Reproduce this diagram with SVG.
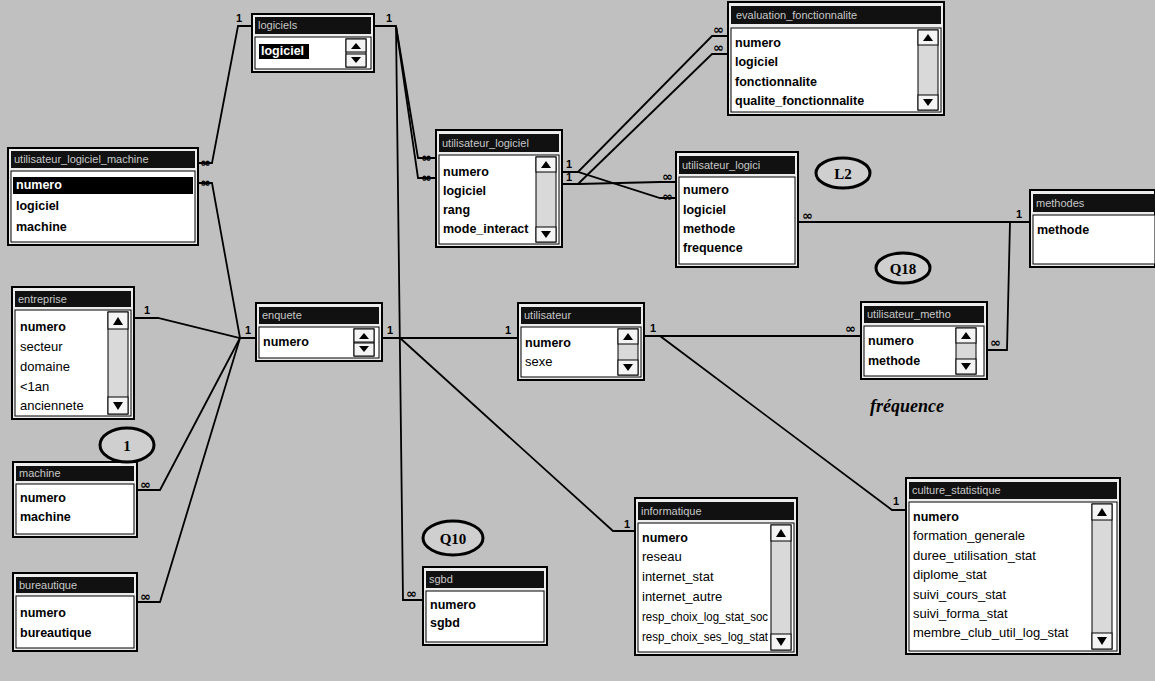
<svg xmlns="http://www.w3.org/2000/svg" width="1155" height="681" viewBox="0 0 1155 681">
<defs>
<style>
.frame{fill:#ececec;stroke:#000;stroke-width:2}
.hdr{fill:#111}
.ht{font-family:"Liberation Sans",Arial,sans-serif;font-size:11px;fill:#c8c8c8}
.body{fill:#fff;stroke:#000;stroke-width:1}
.sel{fill:#000}
.r{font-family:"Liberation Sans",Arial,sans-serif;font-size:12.5px;font-weight:bold;fill:#000}
.n{font-family:"Liberation Sans",Arial,sans-serif;font-size:13px;fill:#000}
.w{fill:#fff}
.sb{fill:#d9d9d9;stroke:#000;stroke-width:1}
.sbb{fill:#f4f4f4;stroke:#000;stroke-width:1}
.ar{fill:#000}
.ln{fill:none;stroke:#000;stroke-width:1.8}
.c1{font-family:"Liberation Sans",Arial,sans-serif;font-size:11px;font-weight:bold;fill:#000}
.ci{font-family:"DejaVu Sans",sans-serif;font-size:13px;font-weight:bold;fill:#000}
.el{fill:#cfcfcf;stroke:#000;stroke-width:3}
.et{font-family:"Liberation Serif",serif;font-size:15px;font-weight:bold;fill:#000;text-anchor:middle}
</style>
</defs>
<rect x="0" y="0" width="1155" height="681" fill="#c0c0c0"/>

<g id="connectors">
<polyline class="ln" points="134,318 158,318 240,338 256,338"/>
<polyline class="ln" points="137,490 160,490 240,338"/>
<polyline class="ln" points="137,602 160,602 240,338"/>
<polyline class="ln" points="198,183 212,183 240,338"/>
<polyline class="ln" points="198,163 212,163 238,26 252,26"/>
<polyline class="ln" points="374,26 396,26 418,158 436,158"/>
<polyline class="ln" points="396,26 418,178 436,178"/>
<polyline class="ln" points="396,26 403,600 423,600"/>
<polyline class="ln" points="382,338 518,338"/>
<polyline class="ln" points="382,338 400,338 613,531 635,531"/>
<polyline class="ln" points="644,336 861,336"/>
<polyline class="ln" points="644,336 660,336 892,510 906,510"/>
<polyline class="ln" points="562,172 578,172 712,36 728,36"/>
<polyline class="ln" points="562,184 578,184 712,54 728,54"/>
<polyline class="ln" points="562,172 578,172 660,198 676,198"/>
<polyline class="ln" points="562,184 578,184 660,182 676,182"/>
<polyline class="ln" points="798,222 1030,222"/>
<polyline class="ln" points="1010,222 1007,350 987,350"/>
<text class="c1" x="144" y="314">1</text>
<text class="ci" x="140" y="489">∞</text>
<text class="ci" x="140" y="601">∞</text>
<text class="ci" x="200" y="167">∞</text>
<text class="ci" x="200" y="187">∞</text>
<text class="c1" x="236" y="22">1</text>
<text class="c1" x="245" y="334">1</text>
<text class="c1" x="386" y="22">1</text>
<text class="ci" x="421" y="162">∞</text>
<text class="ci" x="421" y="182">∞</text>
<text class="ci" x="406" y="598">∞</text>
<text class="c1" x="387" y="334">1</text>
<text class="c1" x="505" y="334">1</text>
<text class="c1" x="624" y="528">1</text>
<text class="c1" x="650" y="332">1</text>
<text class="ci" x="845" y="333">∞</text>
<text class="c1" x="893" y="505">1</text>
<text class="c1" x="566" y="168">1</text>
<text class="c1" x="566" y="181">1</text>
<text class="ci" x="713" y="34">∞</text>
<text class="ci" x="713" y="52">∞</text>
<text class="ci" x="662" y="181">∞</text>
<text class="ci" x="662" y="201">∞</text>
<text class="ci" x="802" y="220">∞</text>
<text class="c1" x="1016" y="218">1</text>
<text class="ci" x="990" y="347">∞</text>
</g>

<g id="t-utilisateur_logiciel_machine">
<rect class="frame" x="8" y="148" width="190" height="97"/>
<rect class="hdr" x="11" y="151" width="184" height="17"/>
<text class="ht" x="14" y="163">utilisateur_logiciel_machine</text>
<rect class="body" x="11" y="171" width="184" height="71"/>
<rect class="sel" x="13" y="177" width="180" height="17"/>
<text class="r w" x="16" y="189">numero</text>
<text class="r" x="16" y="210">logiciel</text>
<text class="r" x="16" y="231">machine</text>
</g>

<g id="t-logiciels">
<rect class="frame" x="252" y="14" width="122" height="58"/>
<rect class="hdr" x="255" y="17" width="116" height="17"/>
<text class="ht" x="258" y="29">logiciels</text>
<rect class="body" x="255" y="37" width="116" height="32"/>
<rect class="sel" x="259" y="44" width="50" height="15"/>
<text class="r w" x="261" y="55">logiciel</text>
<rect class="sb" x="346" y="39" width="20" height="28"/>
<rect class="sbb" x="346" y="39" width="20" height="13"/>
<polygon class="ar" points="351,49 361,49 356,43"/>
<rect class="sbb" x="346" y="54" width="20" height="13"/>
<polygon class="ar" points="351,57 361,57 356,63"/>
</g>

<g id="t-utilisateur_logiciel">
<rect class="frame" x="436" y="130" width="126" height="117"/>
<rect class="hdr" x="439" y="134" width="120" height="18"/>
<text class="ht" x="442" y="147">utilisateur_logiciel</text>
<rect class="body" x="439" y="155" width="120" height="89"/>
<text class="r" x="443" y="176">numero</text>
<text class="r" x="443" y="195">logiciel</text>
<text class="r" x="443" y="214">rang</text>
<text class="r" x="443" y="233">mode_interact</text>
<rect class="sb" x="536" y="157" width="20" height="85"/>
<rect class="sbb" x="536" y="157" width="20" height="15"/>
<polygon class="ar" points="541,168 551,168 546,161"/>
<rect class="sbb" x="536" y="227" width="20" height="15"/>
<polygon class="ar" points="541,231 551,231 546,238"/>
</g>

<g id="t-evaluation_fonctionnalite">
<rect class="frame" x="728" y="2" width="216" height="113"/>
<rect class="hdr" x="731" y="6" width="210" height="18"/>
<text class="ht" x="736" y="19">evaluation_fonctionnalite</text>
<rect class="body" x="731" y="28" width="210" height="84"/>
<text class="r" x="735" y="47">numero</text>
<text class="r" x="735" y="66">logiciel</text>
<text class="r" x="735" y="86">fonctionnalite</text>
<text class="r" x="735" y="105">qualite_fonctionnalite</text>
<rect class="sb" x="918" y="30" width="20" height="80"/>
<rect class="sbb" x="918" y="30" width="20" height="15"/>
<polygon class="ar" points="923,41 933,41 928,34"/>
<rect class="sbb" x="918" y="95" width="20" height="15"/>
<polygon class="ar" points="923,99 933,99 928,106"/>
</g>

<g id="t-utilisateur_logici">
<rect class="frame" x="676" y="152" width="122" height="115"/>
<rect class="hdr" x="679" y="156" width="116" height="18"/>
<text class="ht" x="682" y="169">utilisateur_logici</text>
<rect class="body" x="679" y="177" width="116" height="87"/>
<text class="r" x="683" y="194">numero</text>
<text class="r" x="683" y="214">logiciel</text>
<text class="r" x="683" y="233">methode</text>
<text class="r" x="683" y="252">frequence</text>
</g>

<g id="t-methodes">
<rect class="frame" x="1030" y="190" width="125" height="77"/>
<rect class="hdr" x="1033" y="194" width="122" height="18"/>
<text class="ht" x="1036" y="207">methodes</text>
<rect class="body" x="1033" y="215" width="122" height="49"/>
<text class="r" x="1037" y="234">methode</text>
</g>

<g id="t-entreprise">
<rect class="frame" x="12" y="287" width="122" height="132"/>
<rect class="hdr" x="15" y="291" width="116" height="16"/>
<text class="ht" x="18" y="303">entreprise</text>
<rect class="body" x="15" y="310" width="116" height="106"/>
<text class="r" x="20" y="331">numero</text>
<text class="n" x="20" y="351">secteur</text>
<text class="n" x="20" y="371">domaine</text>
<text class="n" x="20" y="391">&lt;1an</text>
<text class="n" x="20" y="410">anciennete</text>
<rect class="sb" x="108" y="312" width="20" height="102"/>
<rect class="sbb" x="108" y="312" width="20" height="17"/>
<polygon class="ar" points="113,325 123,325 118,317"/>
<rect class="sbb" x="108" y="397" width="20" height="17"/>
<polygon class="ar" points="113,402 123,402 118,410"/>
</g>

<g id="t-enquete">
<rect class="frame" x="256" y="303" width="126" height="58"/>
<rect class="hdr" x="259" y="307" width="120" height="17"/>
<text class="ht" x="262" y="319">enquete</text>
<rect class="body" x="259" y="327" width="120" height="31"/>
<text class="r" x="263" y="346">numero</text>
<rect class="sb" x="354" y="329" width="20" height="27"/>
<rect class="sbb" x="354" y="329" width="20" height="13"/>
<polygon class="ar" points="359,339 369,339 364,333"/>
<rect class="sbb" x="354" y="343" width="20" height="13"/>
<polygon class="ar" points="359,346 369,346 364,352"/>
</g>

<g id="t-utilisateur">
<rect class="frame" x="518" y="303" width="126" height="77"/>
<rect class="hdr" x="521" y="307" width="120" height="17"/>
<text class="ht" x="524" y="319">utilisateur</text>
<rect class="body" x="521" y="327" width="120" height="50"/>
<text class="r" x="525" y="347">numero</text>
<text class="n" x="525" y="366">sexe</text>
<rect class="sb" x="618" y="329" width="20" height="46"/>
<rect class="sbb" x="618" y="329" width="20" height="15"/>
<polygon class="ar" points="623,340 633,340 628,333"/>
<rect class="sbb" x="618" y="360" width="20" height="15"/>
<polygon class="ar" points="623,364 633,364 628,371"/>
</g>

<g id="t-utilisateur_metho">
<rect class="frame" x="861" y="302" width="126" height="77"/>
<rect class="hdr" x="864" y="306" width="120" height="17"/>
<text class="ht" x="867" y="318">utilisateur_metho</text>
<rect class="body" x="864" y="326" width="120" height="50"/>
<text class="r" x="868" y="345">numero</text>
<text class="r" x="868" y="365">methode</text>
<rect class="sb" x="956" y="328" width="20" height="46"/>
<rect class="sbb" x="956" y="328" width="20" height="15"/>
<polygon class="ar" points="961,339 971,339 966,332"/>
<rect class="sbb" x="956" y="359" width="20" height="15"/>
<polygon class="ar" points="961,363 971,363 966,370"/>
</g>

<g id="t-machine">
<rect class="frame" x="13" y="462" width="124" height="75"/>
<rect class="hdr" x="16" y="466" width="118" height="15"/>
<text class="ht" x="19" y="477">machine</text>
<rect class="body" x="16" y="484" width="118" height="50"/>
<text class="r" x="20" y="502">numero</text>
<text class="r" x="20" y="521">machine</text>
</g>

<g id="t-bureautique">
<rect class="frame" x="13" y="573" width="124" height="78"/>
<rect class="hdr" x="16" y="577" width="118" height="16"/>
<text class="ht" x="19" y="589">bureautique</text>
<rect class="body" x="16" y="596" width="118" height="52"/>
<text class="r" x="20" y="617">numero</text>
<text class="r" x="20" y="637">bureautique</text>
</g>

<g id="t-sgbd">
<rect class="frame" x="423" y="567" width="124" height="78"/>
<rect class="hdr" x="426" y="571" width="118" height="17"/>
<text class="ht" x="429" y="583">sgbd</text>
<rect class="body" x="426" y="591" width="118" height="51"/>
<text class="r" x="430" y="609">numero</text>
<text class="r" x="430" y="627">sgbd</text>
</g>

<g id="t-informatique">
<rect class="frame" x="635" y="498" width="162" height="157"/>
<rect class="hdr" x="638" y="502" width="156" height="18"/>
<text class="ht" x="641" y="515">informatique</text>
<rect class="body" x="638" y="523" width="156" height="129"/>
<text class="r" x="642" y="542">numero</text>
<text class="n" x="642" y="561">reseau</text>
<text class="n" x="642" y="581">internet_stat</text>
<text class="n" x="642" y="601">internet_autre</text>
<text class="n" x="642" y="621" textLength="126" lengthAdjust="spacingAndGlyphs">resp_choix_log_stat_soc</text>
<text class="n" x="642" y="641" textLength="126" lengthAdjust="spacingAndGlyphs">resp_choix_ses_log_stat</text>
<rect class="sb" x="771" y="525" width="20" height="125"/>
<rect class="sbb" x="771" y="525" width="20" height="16"/>
<polygon class="ar" points="776,537 786,537 781,529"/>
<rect class="sbb" x="771" y="634" width="20" height="16"/>
<polygon class="ar" points="776,638 786,638 781,646"/>
</g>

<g id="t-culture_statistique">
<rect class="frame" x="906" y="478" width="214" height="176"/>
<rect class="hdr" x="909" y="482" width="208" height="17"/>
<text class="ht" x="912" y="494">culture_statistique</text>
<rect class="body" x="909" y="502" width="208" height="149"/>
<text class="r" x="913" y="521">numero</text>
<text class="n" x="913" y="540">formation_generale</text>
<text class="n" x="913" y="560">duree_utilisation_stat</text>
<text class="n" x="913" y="579">diplome_stat</text>
<text class="n" x="913" y="599">suivi_cours_stat</text>
<text class="n" x="913" y="618">suivi_forma_stat</text>
<text class="n" x="913" y="637">membre_club_util_log_stat</text>
<rect class="sb" x="1092" y="504" width="20" height="145"/>
<rect class="sbb" x="1092" y="504" width="20" height="16"/>
<polygon class="ar" points="1097,516 1107,516 1102,508"/>
<rect class="sbb" x="1092" y="633" width="20" height="16"/>
<polygon class="ar" points="1097,637 1107,637 1102,645"/>
</g>

<g id="annotations">
<ellipse class="el" cx="127" cy="445" rx="27" ry="17"/>
<text class="et" x="127" y="451">1</text>
<ellipse class="el" cx="843" cy="173" rx="27" ry="15"/>
<text class="et" x="843" y="179">L2</text>
<ellipse class="el" cx="903" cy="268" rx="27" ry="15"/>
<text class="et" x="903" y="274">Q18</text>
<ellipse class="el" cx="453" cy="538" rx="30" ry="17"/>
<text class="et" x="453" y="544">Q10</text>
<text x="870" y="412" font-family="Liberation Serif,serif" font-size="18" font-weight="bold" font-style="italic" fill="#000">fréquence</text>
</g>
</svg>
